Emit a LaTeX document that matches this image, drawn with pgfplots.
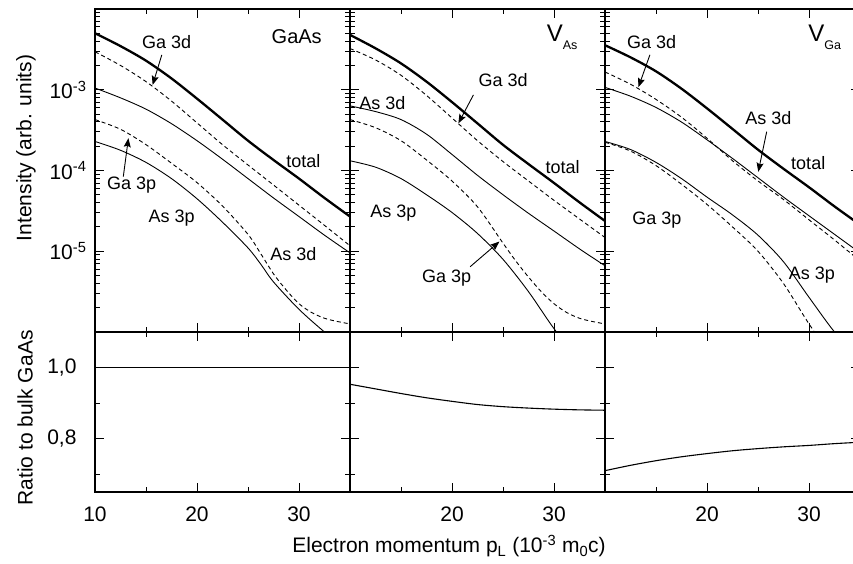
\documentclass[border=0pt]{standalone}
\usepackage{fontspec}
\setmainfont{Liberation Sans}
\usepackage{pgfplots}
\pgfplotsset{compat=1.18}
\usetikzlibrary{arrows.meta}
\newcommand\lblfont{\fontsize{18}{21}\selectfont}
\newcommand\axfont{\fontsize{21}{25}\selectfont}
\pgfplotsset{
  mypanel/.style={scale only axis, width=255pt, anchor=south west,
    xmin=10, xmax=35,
    axis line style={line width=1.5pt},
    tick style={black, line width=1pt},
    tick align=inside,
    major tick length=9pt, minor tick length=5pt,
    xtick={10,20,30}, minor xtick={15,25},
    tick label style={font=\axfont},
    xticklabel style={yshift=-11pt},
  },
  mytop/.style={mypanel, height=323pt, ymin=1e-6, ymax=1e-2,
    ytick={1e-5,1e-4,1e-3},
    minor ytick={2e-6,3e-6,4e-6,5e-6,6e-6,7e-6,8e-6,9e-6,
                 2e-5,3e-5,4e-5,5e-5,6e-5,7e-5,8e-5,9e-5,
                 2e-4,3e-4,4e-4,5e-4,6e-4,7e-4,8e-4,9e-4,
                 2e-3,3e-3,4e-3,5e-3,6e-3,7e-3,8e-3,9e-3},
    yticklabel style={xshift=-5pt},
    xticklabels={}, yticklabels={}},
  mybot/.style={mypanel, height=160pt, ymin=0.65, ymax=1.1,
    yticklabel style={xshift=-15pt},
    ytick={0.8,1.0}, minor ytick={0.7,0.9}, yticklabels={}},
}
\tikzset{
  mytot/.style={black, line width=2.3pt, smooth},
  mythn/.style={black, line width=0.9pt, smooth},
  mydsh/.style={black, line width=0.9pt, smooth, dash pattern=on 4pt off 3pt},
  myarr/.style={black, line width=0.9pt, -{Stealth[length=9pt,width=7pt,inset=1.5pt]}},
}
\begin{document}
\begin{tikzpicture}
\path[use as bounding box] (0,0) rectangle (853pt,564pt);
\clip (0,0) rectangle (853pt,564pt);

% ---------- Panel 1: GaAs ----------
\begin{axis}[ymode=log, mytop, at={(95pt,232pt)},
  yticklabels={10\textsuperscript{-5},10\textsuperscript{-4},10\textsuperscript{-3}}]
\addplot[mytot] coordinates {(10,5.01e-3)(12.5,3.47e-3)(15,2.29e-3)(17.5,1.38e-3)(20,7.76e-4)(22.5,4.27e-4)(25,2.34e-4)(27.5,1.35e-4)(30,7.94e-5)(32.5,4.57e-5)(35,2.69e-5)};
\addplot[mydsh] coordinates {(10,2.95e-3)(12.5,2.00e-3)(15,1.26e-3)(17.5,7.24e-4)(20,3.89e-4)(22.5,2.09e-4)(25,1.17e-4)(27.5,6.61e-5)(30,3.72e-5)(32.5,2.09e-5)(35,1.17e-5)};
\addplot[mythn] coordinates {(10,1.05e-3)(12.5,7.94e-4)(15,5.75e-4)(17.5,3.80e-4)(20,2.34e-4)(22.5,1.38e-4)(25,7.94e-5)(27.5,4.57e-5)(30,2.69e-5)(32.5,1.58e-5)(35,9.55e-6)};
\addplot[mydsh] coordinates {(10,4.27e-4)(12.5,3.24e-4)(15,2.09e-4)(17.5,1.23e-4)(20,7.08e-5)(22.5,3.63e-5)(25,1.62e-5)(26.25,9.33e-6)(27.5,5.25e-6)(28.75,3.31e-6)(30,2.24e-6)(31.25,1.74e-6)(32.5,1.48e-6)(33.75,1.35e-6)(35,1.26e-6)};
\addplot[mythn] coordinates {(10,2.29e-4)(12.5,1.78e-4)(15,1.26e-4)(17.5,7.94e-5)(20,4.47e-5)(22.5,2.29e-5)(25,1.10e-5)(26.25,6.92e-6)(27.5,4.17e-6)(30,1.91e-6)(32.5,1.00e-6)(35,5.62e-7)};
\node[font=\fontsize{20}{24}\selectfont] at (rel axis cs:0.791,0.914) {GaAs};
\node[font=\lblfont] at (rel axis cs:0.281,0.899) {Ga 3d};
\draw[myarr] (rel axis cs:0.262,0.858) -- (rel axis cs:0.226,0.765);
\node[font=\lblfont] at (rel axis cs:0.817,0.529) {total};
\node[font=\lblfont] at (rel axis cs:0.144,0.455) {Ga 3p};
\draw[myarr] (rel axis cs:0.111,0.481) -- (rel axis cs:0.131,0.600);
\node[font=\lblfont] at (rel axis cs:0.301,0.352) {As 3p};
\node[font=\lblfont] at (rel axis cs:0.778,0.241) {As 3d};
\end{axis}

% ---------- Panel 2: V_As ----------
\begin{axis}[ymode=log, mytop, at={(350pt,232pt)}]
\addplot[mytot] coordinates {(10,4.78e-3)(12.5,3.26e-3)(15,2.12e-3)(17.5,1.26e-3)(20,7.03e-4)(22.5,3.83e-4)(25,2.08e-4)(27.5,1.20e-4)(30,7.01e-5)(32.5,4.03e-5)(35,2.37e-5)};
\addplot[mydsh] coordinates {(10,3.24e-3)(12.5,2.34e-3)(15,1.51e-3)(17.5,8.51e-4)(20,4.47e-4)(22.5,2.34e-4)(25,1.29e-4)(27.5,7.41e-5)(30,4.27e-5)(32.5,2.51e-5)(35,1.48e-5)};
\addplot[mythn] coordinates {(10,6.31e-4)(12.5,5.37e-4)(15,4.27e-4)(17.5,2.82e-4)(20,1.58e-4)(22.5,8.71e-5)(25,5.01e-5)(27.5,2.95e-5)(30,1.78e-5)(32.5,1.07e-5)(35,6.61e-6)};
\addplot[mydsh] coordinates {(10,4.27e-4)(12.5,3.39e-4)(15,2.34e-4)(17.5,1.35e-4)(20,7.41e-5)(22.5,3.55e-5)(25,1.26e-5)(26.25,7.59e-6)(27.5,4.79e-6)(28.75,3.16e-6)(30,2.24e-6)(31.25,1.74e-6)(32.5,1.48e-6)(33.75,1.35e-6)(35,1.26e-6)};
\addplot[mythn] coordinates {(10,1.32e-4)(12.5,1.10e-4)(15,7.94e-5)(17.5,5.01e-5)(20,3.02e-5)(22.5,1.66e-5)(25,7.94e-6)(27.5,3.16e-6)(30,1.10e-6)(32.5,4.47e-7)(35,2.00e-7)};
\node[anchor=base west, inner sep=0pt] at (rel axis cs:0.771,0.899)
  {\fontsize{24}{27}\selectfont V\raisebox{-7.5pt}{\fontsize{12.5}{14}\selectfont As}};
\node[font=\lblfont] at (rel axis cs:0.601,0.780) {Ga 3d};
\draw[myarr] (rel axis cs:0.484,0.734) -- (rel axis cs:0.425,0.646);
\node[font=\lblfont] at (rel axis cs:0.127,0.708) {As 3d};
\node[font=\lblfont] at (rel axis cs:0.834,0.512) {total};
\node[font=\lblfont] at (rel axis cs:0.170,0.367) {As 3p};
\node[font=\lblfont] at (rel axis cs:0.379,0.166) {Ga 3p};
\draw[myarr] (rel axis cs:0.471,0.202) -- (rel axis cs:0.586,0.280);
\end{axis}

% ---------- Panel 3: V_Ga ----------
\begin{axis}[ymode=log, mytop, at={(605pt,232pt)}]
\addplot[mytot] coordinates {(10,3.56e-3)(12.5,2.52e-3)(15,1.69e-3)(17.5,1.03e-3)(20,5.88e-4)(22.5,3.27e-4)(25,1.81e-4)(27.5,1.05e-4)(30,6.20e-5)(32.5,3.59e-5)(35,2.13e-5)};
\addplot[mydsh] coordinates {(10,1.66e-3)(12.5,1.17e-3)(15,7.59e-4)(17.5,4.57e-4)(20,2.51e-4)(22.5,1.32e-4)(25,7.41e-5)(27.5,4.37e-5)(30,2.45e-5)(32.5,1.38e-5)(35,7.59e-6)};
\addplot[mythn] coordinates {(10,1.07e-3)(12.5,8.32e-4)(15,6.03e-4)(17.5,3.98e-4)(20,2.40e-4)(22.5,1.41e-4)(25,8.13e-5)(27.5,4.68e-5)(30,2.75e-5)(32.5,1.62e-5)(35,9.55e-6)};
\addplot[mydsh] coordinates {(10,2.24e-4)(12.5,1.74e-4)(15,1.15e-4)(17.5,6.76e-5)(20,3.80e-5)(22.5,2.00e-5)(25,1.00e-5)(27.5,3.98e-6)(30,1.26e-6)(32.5,4.47e-7)(35,2.51e-7)};
\addplot[mythn] coordinates {(10,2.29e-4)(12.5,1.82e-4)(15,1.26e-4)(17.5,7.94e-5)(20,4.68e-5)(22.5,2.82e-5)(25,1.58e-5)(27.5,7.41e-6)(30,2.69e-6)(32.5,1.00e-6)(35,4.47e-7)};
\node[anchor=base west, inner sep=0pt] at (rel axis cs:0.797,0.899)
  {\fontsize{24}{27}\selectfont V\raisebox{-7.5pt}{\fontsize{12.5}{14}\selectfont Ga}};
\node[font=\lblfont] at (rel axis cs:0.183,0.899) {Ga 3d};
\draw[myarr] (rel axis cs:0.176,0.858) -- (rel axis cs:0.131,0.758);
\node[font=\lblfont] at (rel axis cs:0.641,0.662) {As 3d};
\draw[myarr] (rel axis cs:0.634,0.620) -- (rel axis cs:0.601,0.496);
\node[font=\lblfont] at (rel axis cs:0.797,0.522) {total};
\node[font=\lblfont] at (rel axis cs:0.203,0.347) {Ga 3p};
\node[font=\lblfont] at (rel axis cs:0.811,0.176) {As 3p};
\end{axis}

% ---------- Bottom row: ratios ----------
\begin{axis}[mybot, at={(95pt,72pt)}, xticklabels={10,20,30}, yticklabels={{0,8},{1,0}}]
\addplot[mythn, line width=1.1pt] coordinates {(10,1.0)(35,1.0)};
\end{axis}
\begin{axis}[mybot, at={(350pt,72pt)}, xticklabels={,20,30}]
\addplot[mythn, line width=1.1pt] coordinates {(10,0.953)(12.5,0.940)(15,0.927)(17.5,0.915)(20,0.905)(22.5,0.896)(25,0.890)(27.5,0.886)(30,0.883)(32.5,0.881)(35,0.880)};
\end{axis}
\begin{axis}[mybot, at={(605pt,72pt)}, xticklabels={,20,30}]
\addplot[mythn, line width=1.1pt] coordinates {(10,0.710)(12.5,0.725)(15,0.738)(17.5,0.749)(20,0.758)(22.5,0.766)(25,0.772)(27.5,0.777)(30,0.781)(32.5,0.786)(35,0.790)};
\end{axis}

\node[rotate=90, font=\axfont] at (26pt,416pt) {Intensity (arb. units)};
\node[rotate=90, font=\axfont] at (25pt,146pt) {Ratio to bulk GaAs};
\node[anchor=base, font=\axfont] at (449pt,11pt)
  {Electron momentum p\textsubscript{L} (10\textsuperscript{-3} m\textsubscript{0}c)};
\end{tikzpicture}
\end{document}
